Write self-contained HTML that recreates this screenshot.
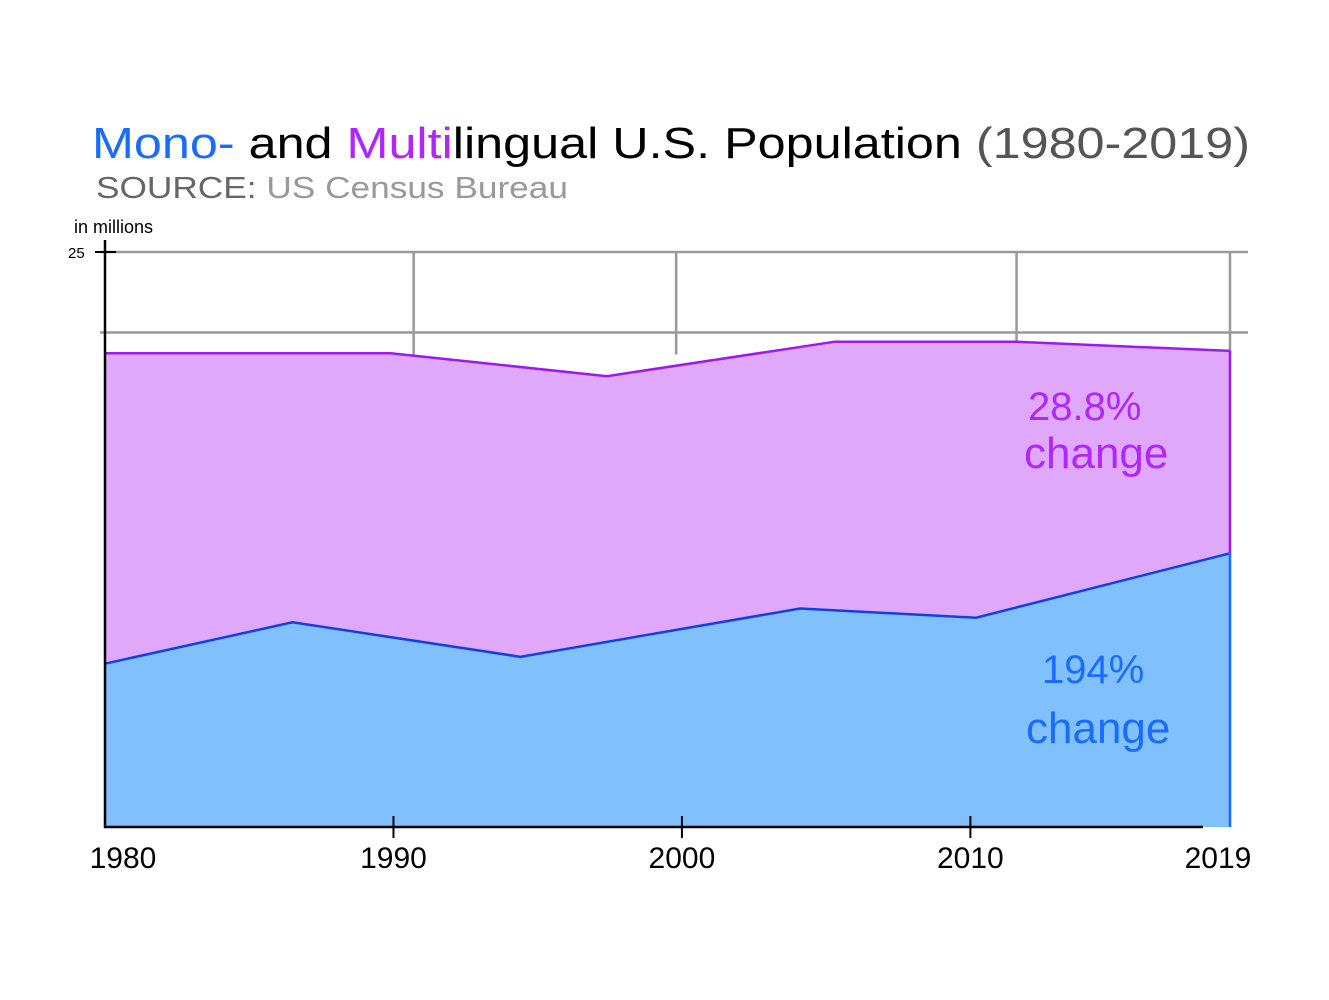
<!DOCTYPE html>
<html><head><meta charset="utf-8"><style>
body{margin:0;background:#fff;}
svg{display:block;font-family:"Liberation Sans",sans-serif;}
</style></head><body>
<svg id="chart" width="1329" height="1000" viewBox="0 0 1329 1000" xmlns="http://www.w3.org/2000/svg">
<g>
<text x="92" y="158" font-size="44" fill="#000" textLength="1158" lengthAdjust="spacingAndGlyphs"><tspan fill="#1a6cff">Mono-</tspan> and <tspan fill="#b026ff">Multi</tspan>lingual U.S. Population <tspan fill="#555">(1980-2019)</tspan></text>
<text x="96" y="198" font-size="31" fill="#999" textLength="472" lengthAdjust="spacingAndGlyphs"><tspan fill="#666">SOURCE:</tspan> US Census Bureau</text>
<text x="74" y="233" font-size="18" fill="#000">in millions</text>
</g>
<g id="grid"></g>
<g id="areas"></g>
<g id="axes"></g>
<text x="1028" y="420" font-size="40" fill="#b026ff">28.8%</text>
<text x="1024" y="468" font-size="44" fill="#b026ff">change</text>
<text x="1042" y="683" font-size="40" fill="#1a6cff">194%</text>
<text x="1026" y="743" font-size="44" fill="#1a6cff">change</text>
</svg>
<script>
const blueYears=[1980,1986.5,1994.4,2004.1,2010.2,2019];
const blueValues=[7.1,8.9,7.4,9.5,9.1,11.9];
const totalYears=[1980,1989.9,1997.4,2005.3,2011.6,2019];
const totalValues=[20.6,20.6,19.6,21.1,21.1,20.7];
const xTickYears=[1980,1990,2000,2010,2019];
const xTickLabels=["1980","1990","2000","2010","2019"];
const yTickValues=[25];
const gridYears=[1990.7,1999.8,2011.6,2019];
const gridValues=[25,21.5];

const X=y=>105+(y-1980)*(1230-105)/39;
const Y=v=>827-v*23;
const NS="http://www.w3.org/2000/svg";
function mk(p,t,a){const e=document.createElementNS(NS,t);for(const k in a)e.setAttribute(k,a[k]);p.appendChild(e);return e;}
const grid=document.getElementById('grid'),areas=document.getElementById('areas'),axes=document.getElementById('axes');
gridValues.forEach((v,i)=>{
 const l=mk(grid,'line',{x1:100,x2:1248,y1:Y(v),y2:Y(v),stroke:'#999','stroke-width':2.5});
 
 
});
gridYears.forEach(g=>{
 const l=mk(grid,'line',{x1:X(g),x2:X(g),y1:Y(25),y2:Y(21.5)+22,stroke:'#999','stroke-width':2.5});
 
 
});
const bpts=blueYears.map((y,i)=>[X(y),Y(blueValues[i])]);
const tpts=totalYears.map((y,i)=>[X(y),Y(totalValues[i])]);
const pp=tpts.map(p=>p.join(',')).concat(bpts.slice().reverse().map(p=>p.join(','))).join(' ');
const pa=mk(areas,'polygon',{points:pp,fill:'#dfa8fb'});


const bp=bpts.map(p=>p.join(',')).concat([X(2019)+',827',X(1980)+',827']).join(' ');
const ba=mk(areas,'polygon',{points:bp,fill:'#80c0fd'});


const tl=mk(areas,'polyline',{points:tpts.map(p=>p.join(',')).join(' '),fill:'none',stroke:'#9a1af0','stroke-width':2.5});


const bl=mk(areas,'polyline',{points:bpts.map(p=>p.join(',')).join(' '),fill:'none',stroke:'#1040e0','stroke-width':2.5});


const ev1=mk(areas,'line',{x1:X(2019),x2:X(2019),y1:tpts[tpts.length-1][1],y2:bpts[bpts.length-1][1],stroke:'#9a1af0','stroke-width':2.5});


const ev2=mk(areas,'line',{x1:X(2019),x2:X(2019),y1:bpts[bpts.length-1][1],y2:827,stroke:'#1a6cff','stroke-width':2.5});


const ya=mk(axes,'line',{x1:105,x2:105,y1:240,y2:828,stroke:'#000','stroke-width':2.5});


const xa=mk(axes,'line',{x1:104,x2:1203,y1:827,y2:827,stroke:'#000','stroke-width':2.5});


yTickValues.forEach(v=>{
 const t=mk(axes,'line',{x1:95,x2:116,y1:Y(v),y2:Y(v),stroke:'#000','stroke-width':2});
 
 
 const tx=mk(axes,'text',{x:68,y:Y(v)+6,'font-size':15,fill:'#000'});
 tx.textContent=v;
 
 
});
xTickYears.forEach((y,i)=>{
 if(i>0&&i<xTickYears.length-1){
  const t=mk(axes,'line',{x1:X(y),x2:X(y),y1:816,y2:838,stroke:'#000','stroke-width':2});
  
  
 }
 const tx=mk(axes,'text',{x:X(y)+(i==0?18:i==4?-12:0),y:868,'font-size':30,fill:'#000','text-anchor':'middle'});
 tx.textContent=xTickLabels[i];
 
 
});
</script>
</body></html>
